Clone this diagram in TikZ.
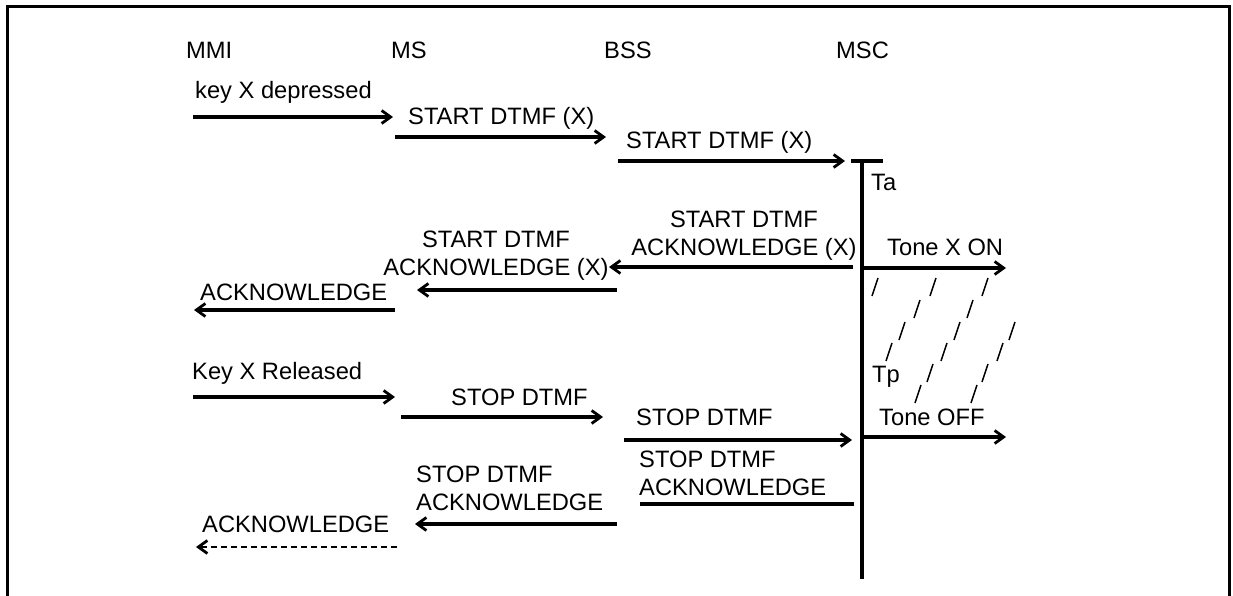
\documentclass[tikz,border=0pt]{standalone}
\usepackage{fontspec}
\setmainfont{Liberation Sans}
\usetikzlibrary{arrows.meta}
\begin{document}
\begin{tikzpicture}[x=1pt,y=-1pt,
  lbl/.style={anchor=base west, inner sep=0pt, font=\fontsize{23.7}{28}\selectfont},
  lblc/.style={anchor=base, inner sep=0pt, font=\fontsize{23.7}{28}\selectfont},
  msg/.style={line width=3.1pt, -{Straight Barb[length=9pt,width=13pt,line width=2.8pt]}},
  dmsg/.style={line width=2.5pt, dash pattern=on 6pt off 4pt, -{Straight Barb[length=9pt,width=13pt,line width=2.8pt]}},
  plain/.style={line width=3.1pt},
  frame/.style={line width=3pt},
  slash/.style={line width=1.5pt}]
\useasboundingbox (0,0) rectangle (1233,596);
% frame (open at the bottom)
\draw[frame] (7,600) -- (7,7) -- (1229,7) -- (1229,600);

% headers
\node[lbl] (hMMI) at (186,59) {MMI};
\node[lbl] (hMS)  at (391,59) {MS};
\node[lbl] (hBSS) at (604,59) {BSS};
\node[lbl] (hMSC) at (836,59) {MSC};

% labels
\node[lbl] (tKeyDep) at (195,99) {key X depressed};
\node[lbl] (tStart1) at (408,125) {START DTMF (X)};
\node[lbl] (tStart2) at (626,149) {START DTMF (X)};
\node[lbl] (tTa) at (871,190) {Ta};
\node[lblc] (tAckX2) at (744,255) {\begin{tabular}[b]{@{}c@{}}START DTMF\\ACKNOWLEDGE (X)\end{tabular}};
\node[lblc] (tAckX1) at (496,275) {\begin{tabular}[b]{@{}c@{}}START DTMF\\ACKNOWLEDGE (X)\end{tabular}};
\node[lbl] (tToneOn) at (887,255) {Tone X ON};
\node[lbl] (tAck1) at (200,300) {ACKNOWLEDGE};
\node[lbl] (tKeyRel) at (192,379) {Key X Released};
\node[lbl] (tStop1) at (451,405) {STOP DTMF};
\node[lbl] (tStop2) at (636,425) {STOP DTMF};
\node[lbl] (tTp) at (872,382) {Tp};
\node[lbl] (tToneOff) at (879,425) {Tone OFF};
\node[lbl] (tStopAck2) at (639,495) {\begin{tabular}[b]{@{}l@{}}STOP DTMF\\ACKNOWLEDGE\end{tabular}};
\node[lbl] (tStopAck1) at (416,510) {\begin{tabular}[b]{@{}l@{}}STOP DTMF\\ACKNOWLEDGE\end{tabular}};
\node[lbl] (tAck2) at (202,532) {ACKNOWLEDGE};

% end points
\coordinate (a1s) at (193,117); \coordinate (a1e) at (393,117);
\coordinate (a2s) at (395,137); \coordinate (a2e) at (606,137);
\coordinate (a3s) at (618,161); \coordinate (a3e) at (845,161);
\coordinate (tks) at (851,161); \coordinate (tke) at (883,161);
\coordinate (mscTop) at (862,161); \coordinate (mscBot) at (862,579);
\coordinate (a4s) at (853,267); \coordinate (a4e) at (609,267);
\coordinate (onS) at (862,268); \coordinate (onE) at (1006,268);
\coordinate (a5s) at (617,290); \coordinate (a5e) at (417,290);
\coordinate (a6s) at (395,310); \coordinate (a6e) at (194,310);
\coordinate (a7s) at (193,397); \coordinate (a7e) at (395,397);
\coordinate (a8s) at (401,417); \coordinate (a8e) at (603,417);
\coordinate (a9s) at (624,440); \coordinate (a9e) at (852,440);
\coordinate (offS) at (862,437); \coordinate (offE) at (1006,437);
\coordinate (l10s) at (854,504); \coordinate (l10e) at (640,504);
\coordinate (a11s) at (617,524); \coordinate (a11e) at (415,524);
\coordinate (a12s) at (397,547); \coordinate (a12e) at (196,547);

% connectors
\draw[msg] (a1s) -- (a1e);
\draw[msg] (a2s) -- (a2e);
\draw[msg] (a3s) -- (a3e);
\draw[plain] (tks) -- (tke);
\draw[plain] (mscTop) -- (mscBot);
\draw[msg] (a4s) -- (a4e);
\draw[msg] (onS) -- (onE);
\draw[msg] (a5s) -- (a5e);
\draw[msg] (a6s) -- (a6e);
\draw[msg] (a7s) -- (a7e);
\draw[msg] (a8s) -- (a8e);
\draw[msg] (a9s) -- (a9e);
\draw[msg] (offS) -- (offE);
\draw[plain] (l10s) -- (l10e);
\draw[msg] (a11s) -- (a11e);
\draw[dmsg] (a12s) -- (a12e);

% hatch of the tone period
\foreach \x/\y in {875/287,933/287,985/287,
                   917/309,970/309,
                   902/331,957/331,1012/331,
                   889/352,944/352,1000/352,
                   930/373,985/373,
                   918/394,974/394}
  \draw[slash] (\x-3,\y+9) -- (\x+3,\y-9);
\end{tikzpicture}
\end{document}
